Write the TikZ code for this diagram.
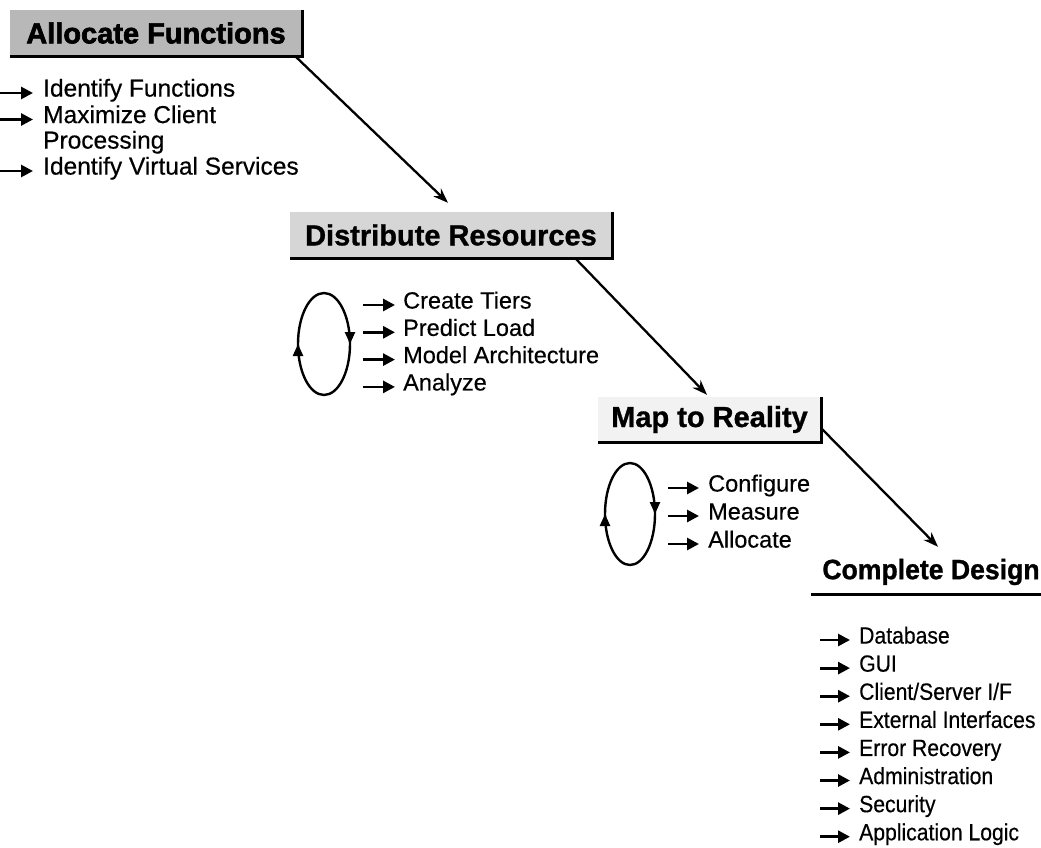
\documentclass[tikz,border=0pt]{standalone}
\usepackage{fontspec}
\setmainfont{Liberation Sans}
\newfontfamily\titlefont{Liberation Sans}[BoldFeatures={FakeBold=1}]
\newfontfamily\heavyfont{Liberation Sans}[BoldFeatures={FakeBold=2.2}]
\newfontfamily\bodyfont{Liberation Sans}[FakeBold=0.4]
\newfontfamily\narrowbody{Liberation Sans}[FakeBold=0.4, FakeStretch=0.9]
\newfontfamily\narrowtitle{Liberation Sans}[BoldFeatures={FakeBold=1, FakeStretch=0.95}]
\usetikzlibrary{arrows.meta,decorations.markings}
\begin{document}
\begin{tikzpicture}[x=1pt,y=-1pt,
  title/.style={font=\fontsize{29pt}{32pt}\titlefont\bfseries, inner sep=0pt, anchor=center},
  item/.style={font=\fontsize{23.5pt}{28pt}\bodyfont, inner sep=0pt, anchor=west, text height=0.716em, text depth=0pt},
  bullet/.style={line width=2.8pt, -{Triangle[length=12pt,width=12pt]}},
  flow/.style={line width=2.3pt, -{Stealth[length=15pt,width=11pt]}},
  frameline/.style={line width=3pt},
  cycle/.style={line width=2.4pt, postaction={decorate},
    decoration={markings,
      mark=at position 0.25 with {\arrow{Triangle[length=12pt,width=10pt]}},
      mark=at position 0.75 with {\arrow{Triangle[length=12pt,width=10pt]}}}}
]
\useasboundingbox (0,0) rectangle (1041,848);

% step boxes
\node[title, font=\fontsize{29pt}{32pt}\heavyfont\bfseries, fill=black!28, minimum width=292pt, minimum height=46pt] (A) at (156,33) {Allocate Functions};
\node[title, fill=black!16, minimum width=322pt, minimum height=46pt] (B) at (451,235) {Distribute Resources};
\node[title, fill=black!5, minimum width=223pt, minimum height=45pt] (C) at (709.5,419.5) {Map to Reality};
\node[title, font=\fontsize{28pt}{31pt}\narrowtitle\bfseries, minimum width=240pt, minimum height=44pt] (D) at (931,572) {Complete Design};

\draw[frameline] (A.north east) -- (A.south east) -- (A.south west);
\draw[frameline] (B.north east) -- (B.south east) -- (B.south west);
\draw[frameline] (C.north east) -- (C.south east) -- (C.south west);
\draw[frameline] (D.south west) -- ([xshift=20pt]D.south east);

% flow connectors
\draw[flow] ([xshift=-7pt]A.south east) -- ([xshift=-3pt,yshift=9pt]B.north);
\draw[flow] ([xshift=-37pt]B.south east) -- ([xshift=-2.5pt,yshift=2pt]C.north);
\draw[flow] ([yshift=14pt]C.south east) -- ([xshift=7pt,yshift=3pt]D.north);

% list 1
\begin{scope}[item/.append style={font=\fontsize{24.5pt}{28pt}\bodyfont}]
\node[item] (a1) at (43,93) {Identify Functions};
\node[item] (a2) at (43,119.5) {Maximize Client};
\node[item] (a2b) at (43,145) {Processing};
\node[item] (a3) at (43,171) {Identify Virtual Services};
\end{scope}
\foreach \n in {a1,a2,a3}
  \draw[bullet] ([xshift=-43pt]\n.west) -- ([xshift=-10pt]\n.west);

% list 2 with cycle
\coordinate (L1) at (324,344);
\draw[cycle] ([yshift=51pt]L1) arc[start angle=-90, end angle=270, x radius=26, y radius=51];
\foreach \t [count=\i] in {Create Tiers,Predict Load,Model Architecture,Analyze}{
  \node[item] (b\i) at (403,{305+27.3*(\i-1)}) {\t};
  \draw[bullet] ([xshift=-40pt]b\i.west) -- ([xshift=-8pt]b\i.west);
}

% list 3 with cycle
\coordinate (L2) at (630,514);
\draw[cycle] ([yshift=51pt]L2) arc[start angle=-90, end angle=270, x radius=25, y radius=51];
\foreach \t [count=\i] in {Configure,Measure,Allocate}{
  \node[item] (c\i) at (708,{488+28*(\i-1)}) {\t};
  \draw[bullet] ([xshift=-40pt]c\i.west) -- ([xshift=-9pt]c\i.west);
}

% list 4
\begin{scope}[item/.append style={font=\fontsize{23.5pt}{28pt}\narrowbody}]
\foreach \t [count=\i] in {Database,GUI,Client/Server I/F,External Interfaces,Error Recovery,Administration,Security,Application Logic}{
  \node[item] (d\i) at (859,{640+28.1*(\i-1)}) {\t};
  \draw[bullet] ([xshift=-39pt]d\i.west) -- ([xshift=-9pt]d\i.west);
}
\end{scope}
\end{tikzpicture}
\end{document}
